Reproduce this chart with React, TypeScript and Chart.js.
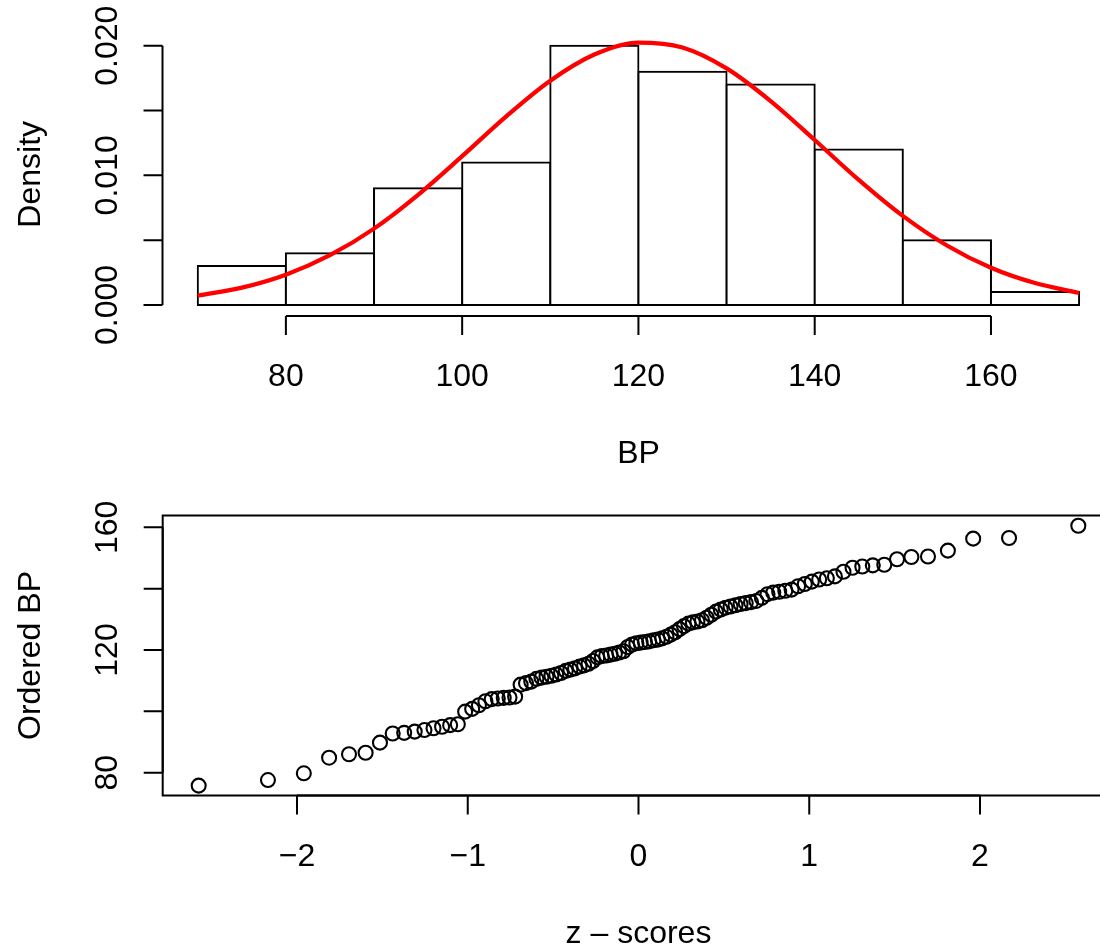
import React, { useEffect, useRef } from "react";
import { Chart, registerables } from "chart.js";

Chart.register(...registerables);

// ---------- Histogram data ----------
const binStarts = [70, 80, 90, 100, 110, 120, 130, 140, 150, 160];
const binWidth = 10;
const densities = [0.003, 0.004, 0.009, 0.011, 0.02, 0.018, 0.017, 0.012, 0.005, 0.001];
const curveX = [70, 75, 80, 85, 90, 95, 100, 105, 110, 115, 120, 125, 130, 135, 140, 145, 150, 155, 160, 165, 170];
const curveY = [0.00072, 0.00134, 0.00234, 0.00384, 0.00589, 0.0085, 0.01148, 0.01455, 0.0173, 0.01932, 0.02024, 0.01986, 0.01825, 0.01573, 0.01273, 0.00965, 0.00687, 0.00459, 0.00287, 0.00169, 0.00093];
const histXTicks = [80, 100, 120, 140, 160];
const histXLabels = ["80", "100", "120", "140", "160"];
const histYTicks = [0, 0.005, 0.01, 0.015, 0.02];
const histYLabels = ["0.000", "", "0.010", "", "0.020"];

// ---------- QQ plot data ----------
const zScores = [
  -2.5758, -2.1701, -1.96, -1.8119, -1.6954, -1.5982, -1.5141, -1.4395, -1.3722, -1.3106,
  -1.2536, -1.2004, -1.1503, -1.1031, -1.0581, -1.0152, -0.9741, -0.9346, -0.8965, -0.8596,
  -0.8239, -0.7892, -0.7554, -0.7225, -0.6903, -0.6588, -0.628, -0.5978, -0.5681, -0.5388,
  -0.5101, -0.4817, -0.4538, -0.4261, -0.3989, -0.3719, -0.3451, -0.3186, -0.2924, -0.2663,
  -0.2404, -0.2147, -0.1891, -0.1637, -0.1383, -0.113, -0.0878, -0.0627, -0.0376, -0.0125,
  0.0125, 0.0376, 0.0627, 0.0878, 0.113, 0.1383, 0.1637, 0.1891, 0.2147, 0.2404,
  0.2663, 0.2924, 0.3186, 0.3451, 0.3719, 0.3989, 0.4261, 0.4538, 0.4817, 0.5101,
  0.5388, 0.5681, 0.5978, 0.628, 0.6588, 0.6903, 0.7225, 0.7554, 0.7892, 0.8239,
  0.8596, 0.8965, 0.9346, 0.9741, 1.0152, 1.0581, 1.1031, 1.1503, 1.2004, 1.2536,
  1.3106, 1.3722, 1.4395, 1.5141, 1.5982, 1.6954, 1.8119, 1.96, 2.1701, 2.5758,
];
const orderedBP = [
  75.8, 77.6, 79.8, 84.9, 86.0, 86.5, 89.8, 92.8, 93.0, 93.4,
  93.9, 94.5, 95.0, 95.5, 95.8, 99.9, 100.8, 102.0, 103.3, 104.0,
  104.2, 104.4, 104.5, 104.8, 108.7, 109.2, 109.7, 110.6, 111.0, 111.3,
  111.6, 112.0, 112.5, 113.2, 113.6, 114.0, 114.6, 115.0, 115.5, 116.4,
  117.6, 118.0, 118.2, 118.5, 118.8, 119.2, 119.6, 121.0, 121.8, 122.2,
  122.4, 122.6, 122.8, 123.2, 123.4, 123.8, 124.3, 125.0, 125.8, 126.8,
  127.8, 128.6, 129.0, 129.3, 129.7, 130.5, 131.5, 132.5, 133.2, 133.8,
  134.2, 134.6, 135.0, 135.3, 135.6, 136.0, 137.0, 138.2, 138.7, 139.0,
  139.3, 139.7, 140.8, 141.5, 142.3, 143.0, 143.4, 144.0, 145.5, 146.8,
  147.2, 147.6, 147.8, 149.6, 150.3, 150.5, 152.4, 156.3, 156.5, 160.5,
];
const qqXTicks = [-2, -1, 0, 1, 2];
const qqXLabels = ["\u22122", "\u22121", "0", "1", "2"];
const qqYTicks = [80, 100, 120, 140, 160];
const qqYLabels = ["80", "", "120", "", "160"];

const FONT = '32px "Liberation Sans", Arial, Helvetica, sans-serif';
const TICK = 19;
const LW = 2;

type AxisCfg = {
  xTicks: number[];
  xLabels: string[];
  yTicks: number[];
  yLabels: string[];
  xTitle: string;
  yTitle: string;
  box: boolean;
};

function makeAxesPlugin(cfg: AxisCfg) {
  return {
    id: "rAxes",
    afterDraw(chart: any) {
      const ctx = chart.ctx as CanvasRenderingContext2D;
      const xs = chart.scales.x;
      const ys = chart.scales.y;
      const area = chart.chartArea;
      const left = area.left;
      const bottom = area.bottom;
      ctx.save();
      ctx.strokeStyle = "#000";
      ctx.fillStyle = "#000";
      ctx.lineWidth = LW;
      ctx.lineCap = "butt";

      if (cfg.box) {
        ctx.beginPath();
        ctx.moveTo(chart.width + 10, area.top);
        ctx.lineTo(left, area.top);
        ctx.lineTo(left, bottom);
        ctx.lineTo(chart.width + 10, bottom);
        ctx.stroke();
      }

      // y axis
      const yFirst = ys.getPixelForValue(cfg.yTicks[0]);
      const yLast = ys.getPixelForValue(cfg.yTicks[cfg.yTicks.length - 1]);
      ctx.beginPath();
      ctx.moveTo(left, yFirst);
      ctx.lineTo(left, yLast);
      cfg.yTicks.forEach((t) => {
        const py = ys.getPixelForValue(t);
        ctx.moveTo(left - TICK, py);
        ctx.lineTo(left, py);
      });
      ctx.stroke();

      // x axis
      const xFirst = xs.getPixelForValue(cfg.xTicks[0]);
      const xLast = xs.getPixelForValue(cfg.xTicks[cfg.xTicks.length - 1]);
      ctx.beginPath();
      ctx.moveTo(xFirst, bottom);
      ctx.lineTo(xLast, bottom);
      cfg.xTicks.forEach((t) => {
        const px = xs.getPixelForValue(t);
        ctx.moveTo(px, bottom);
        ctx.lineTo(px, bottom + TICK);
      });
      ctx.stroke();

      ctx.font = FONT;
      ctx.textBaseline = "alphabetic";
      ctx.textAlign = "center";
      // x labels
      cfg.xTicks.forEach((t, i) => {
        const px = xs.getPixelForValue(t);
        ctx.fillText(cfg.xLabels[i], px, bottom + 70);
      });
      // x title (centred on the plot region)
      ctx.fillText(cfg.xTitle, 638.5, bottom + 147);

      // y labels (rotated)
      cfg.yTicks.forEach((t, i) => {
        if (!cfg.yLabels[i]) return;
        const py = ys.getPixelForValue(t);
        ctx.save();
        ctx.translate(left - 45.5, py);
        ctx.rotate(-Math.PI / 2);
        ctx.fillText(cfg.yLabels[i], 0, 0);
        ctx.restore();
      });
      // y title
      ctx.save();
      ctx.translate(40, (area.top + bottom) / 2);
      ctx.rotate(-Math.PI / 2);
      ctx.fillText(cfg.yTitle, 0, 0);
      ctx.restore();

      ctx.restore();
    },
  };
}

export default function App() {
  const topRef = useRef<HTMLCanvasElement | null>(null);
  const botRef = useRef<HTMLCanvasElement | null>(null);

  useEffect(() => {
    const histBars = binStarts.map((s, i) => ({ x: s + binWidth / 2, y: densities[i] }));
    const curve = curveX.map((x, i) => ({ x, y: curveY[i] }));
    const edgeTicks = [...binStarts, binStarts[binStarts.length - 1] + binWidth];

    const top = new Chart(topRef.current as HTMLCanvasElement, {
      type: "bar",
      data: {
        datasets: [
          {
            type: "line",
            data: curve,
            borderColor: "#FF0000",
            borderWidth: 4.2,
            pointRadius: 0,
            cubicInterpolationMode: "monotone",
            fill: false,
            order: 0,
          } as any,
          {
            type: "bar",
            data: histBars,
            backgroundColor: "#FFFFFF",
            borderColor: "#000000",
            borderWidth: LW,
            borderSkipped: false,
            inflateAmount: LW / 2,
            barPercentage: 1,
            categoryPercentage: 1,
            order: 1,
          } as any,
        ],
      },
      options: {
        animation: false,
        responsive: false,
        events: [],
        layout: { padding: { left: 162.5, right: 0, top: 32.6, bottom: 164 }, autoPadding: false } as any,
        plugins: { legend: { display: false }, tooltip: { enabled: false } },
        scales: {
          x: {
            type: "linear",
            display: false,
            offset: false,
            min: 66,
            max: 172.37,
            afterBuildTicks: (s: any) => {
              s.ticks = edgeTicks.map((v) => ({ value: v }));
            },
          },
          y: {
            type: "linear",
            display: false,
            min: -0.000848,
            max: 0.02101,
          },
        },
      } as any,
      plugins: [
        makeAxesPlugin({
          xTicks: histXTicks,
          xLabels: histXLabels,
          yTicks: histYTicks,
          yLabels: histYLabels,
          xTitle: "BP",
          yTitle: "Density",
          box: false,
        }),
      ],
    });

    const pts = zScores.map((z, i) => ({ x: z, y: orderedBP[i] }));
    const bot = new Chart(botRef.current as HTMLCanvasElement, {
      type: "scatter",
      data: {
        datasets: [
          {
            data: pts,
            pointStyle: "circle",
            pointRadius: 7,
            pointBorderWidth: 2.1,
            borderColor: "#000000",
            backgroundColor: "rgba(0,0,0,0)",
            pointBackgroundColor: "rgba(0,0,0,0)",
            pointBorderColor: "#000000",
          },
        ],
      },
      options: {
        animation: false,
        responsive: false,
        events: [],
        layout: { padding: { left: 162.7, right: 0, top: 35.5, bottom: 152.5 }, autoPadding: false } as any,
        plugins: { legend: { display: false }, tooltip: { enabled: false } },
        scales: {
          x: { type: "linear", display: false, min: -2.7865, max: 2.7028 },
          y: { type: "linear", display: false, min: 72.57, max: 163.85 },
        },
      } as any,
      plugins: [
        makeAxesPlugin({
          xTicks: qqXTicks,
          xLabels: qqXLabels,
          yTicks: qqYTicks,
          yLabels: qqYLabels,
          xTitle: "z \u2013 scores",
          yTitle: "Ordered BP",
          box: true,
        }),
      ],
    });

    return () => {
      top.destroy();
      bot.destroy();
    };
  }, []);

  return (
    <div style={{ position: "absolute", left: 0, top: 0, width: 1100, height: 948, background: "#fff", overflow: "hidden" }}>
      <canvas ref={topRef} width={1100} height={480} style={{ position: "absolute", left: 0, top: 0, width: 1100, height: 480 }} />
      <canvas ref={botRef} width={1100} height={468} style={{ position: "absolute", left: 0, top: 480, width: 1100, height: 468 }} />
    </div>
  );
}
